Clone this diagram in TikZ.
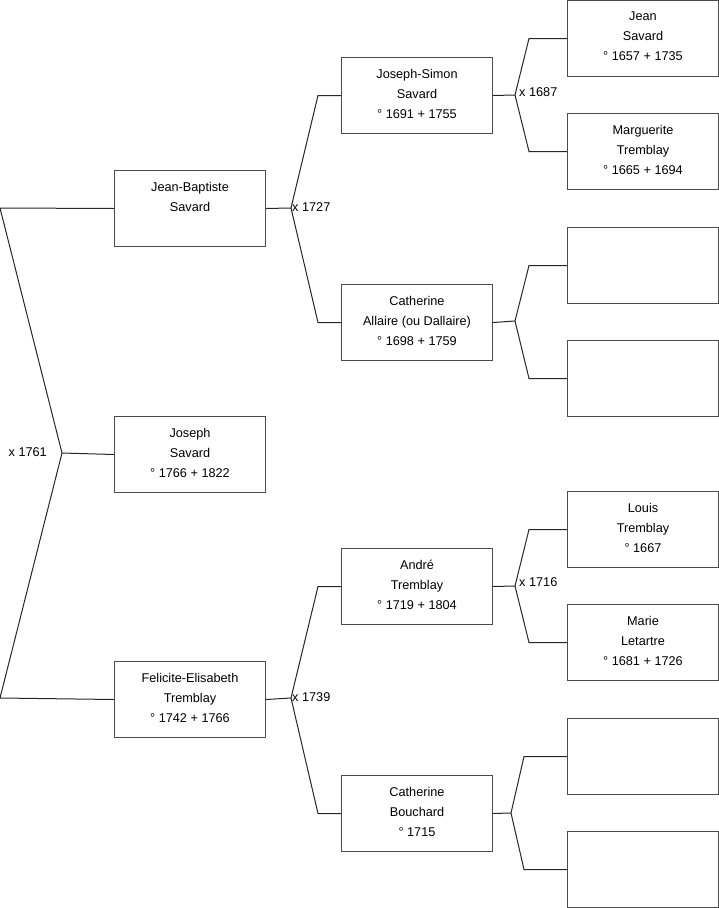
\documentclass[tikz,border=0pt]{standalone}
\usepackage{fontspec}
\setmainfont{Liberation Sans}
\usetikzlibrary{calc}
\begin{document}
\begin{tikzpicture}[x=1pt,y=-1pt,
  person/.style={draw=black!70,line width=1pt,fill=white,anchor=north west,minimum width=151pt,minimum height=76pt,inner sep=0pt,text depth=4pt,align=center,font=\fontsize{12.7}{20}\selectfont},
  link/.style={draw=black!85,line width=1pt},
  mlabel/.style={font=\fontsize{12.7}{15}\selectfont,inner sep=2pt}]
\useasboundingbox (0,0) rectangle (719,908);
% column 1
\node[person] (jb) at (114,170) {Jean-Baptiste\\Savard\\\mbox{}};
\node[person] (jo) at (114,416) {Joseph\\Savard\\° 1766 + 1822};
\node[person] (fe) at (114,661) {Felicite-Elisabeth\\Tremblay\\° 1742 + 1766};
% column 2
\node[person] (js) at (341,57) {Joseph-Simon\\Savard\\° 1691 + 1755};
\node[person] (ca) at (341,284) {Catherine\\Allaire (ou Dallaire)\\° 1698 + 1759};
\node[person] (an) at (341,548) {André\\Tremblay\\° 1719 + 1804};
\node[person] (cb) at (341,775) {Catherine\\Bouchard\\° 1715};
% column 3
\node[person] (je) at (567,0) {Jean\\Savard\\° 1657 + 1735};
\node[person] (ma) at (567,113) {Marguerite\\Tremblay\\° 1665 + 1694};
\node[person] (e1) at (567,227) {};
\node[person] (e2) at (567,340) {};
\node[person] (lo) at (567,491) {Louis\\Tremblay\\° 1667};
\node[person] (mr) at (567,604) {Marie\\Letartre\\° 1681 + 1726};
\node[person] (e3) at (567,718) {};
\node[person] (e4) at (567,831) {};
% level 0
\coordinate (p0) at (62,453);
\coordinate (p0a) at (0,208);
\coordinate (p0b) at (0,698);
\draw[link] (jb.west) -- (p0a) -- (p0) -- (p0b) -- (fe.west);
\draw[link] (p0) -- (jo.west);
\node[mlabel,anchor=east] (l0) at (49,452) {x 1761};
% level 1 upper
\coordinate (p1) at (291,208);
\draw[link] (jb.east) -- (p1);
\draw[link] (js.west) -- ++(-23,0) -- (p1) -- ($(ca.west)+(-23,0)$) -- (ca.west);
\node[mlabel,anchor=west] (l1) at (290,207) {x 1727};
% level 1 lower
\coordinate (p2) at (291,698);
\draw[link] (fe.east) -- (p2);
\draw[link] (an.west) -- ++(-23,0) -- (p2) -- ($(cb.west)+(-23,0)$) -- (cb.west);
\node[mlabel,anchor=west] (l2) at (290,697) {x 1739};
% level 2
\coordinate (q1) at (515,95);
\draw[link] (js.east) -- (q1);
\draw[link] (je.west) -- ++(-38,0) -- (q1) -- ($(ma.west)+(-38,0)$) -- (ma.west);
\node[mlabel,anchor=west] (l3) at (517,92) {x 1687};
\coordinate (q2) at (515,321);
\draw[link] (ca.east) -- (q2);
\draw[link] (e1.west) -- ++(-38,0) -- (q2) -- ($(e2.west)+(-38,0)$) -- (e2.west);
\coordinate (q3) at (515,586);
\draw[link] (an.east) -- (q3);
\draw[link] (lo.west) -- ++(-38,0) -- (q3) -- ($(mr.west)+(-38,0)$) -- (mr.west);
\node[mlabel,anchor=west] (l4) at (517,582) {x 1716};
\coordinate (q4) at (511,813);
\draw[link] (cb.east) -- (q4);
\draw[link] (e3.west) -- ++(-43,0) -- (q4) -- ($(e4.west)+(-43,0)$) -- (e4.west);
\end{tikzpicture}
\end{document}
